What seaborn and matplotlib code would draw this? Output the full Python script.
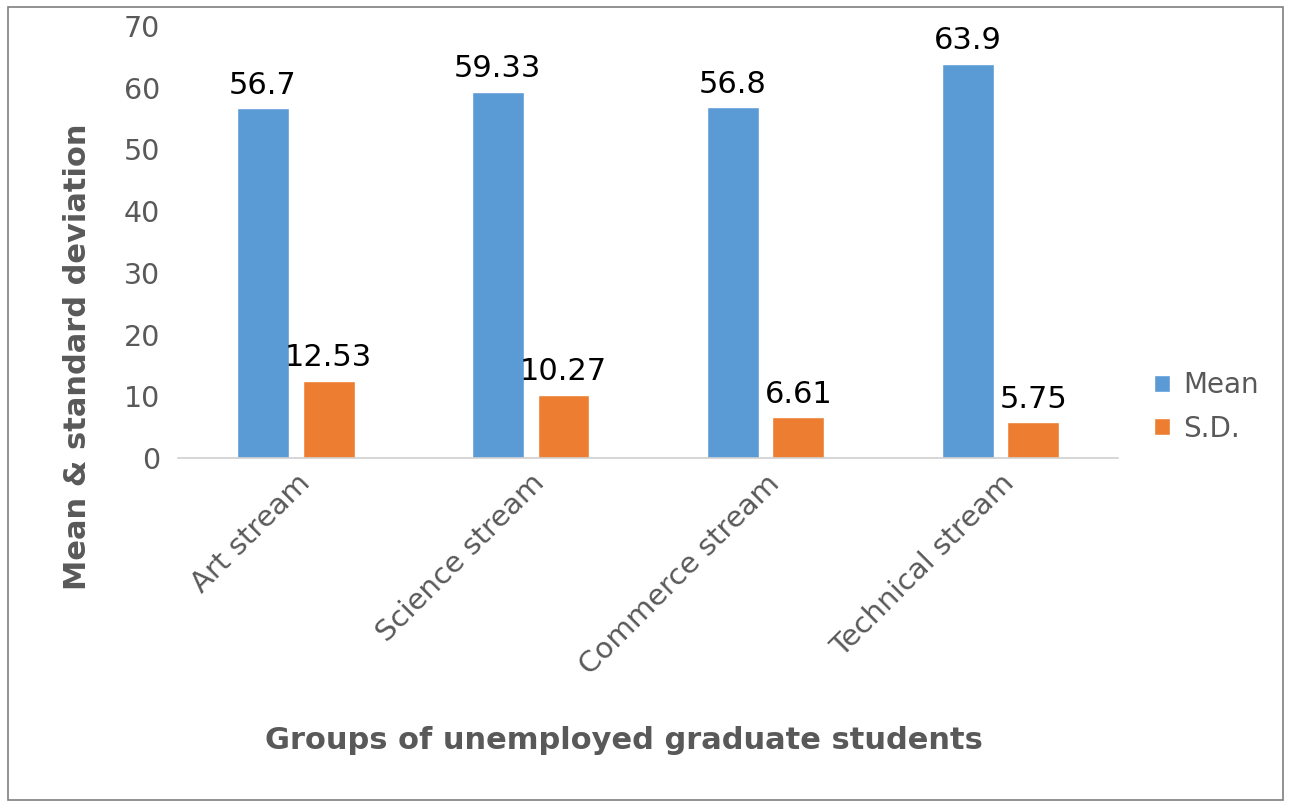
import pandas as pd
import matplotlib
matplotlib.use("Agg")
import matplotlib.pyplot as plt
import seaborn as sns
from matplotlib.patches import Rectangle

# data
groups = ["Art stream", "Science stream", "Commerce stream", "Technical stream"]
mean_vals = [56.7, 59.33, 56.8, 63.9]
sd_vals = [12.53, 10.27, 6.61, 5.75]
mean_labels = ["56.7", "59.33", "56.8", "63.9"]
sd_labels = ["12.53", "10.27", "6.61", "5.75"]

df = pd.DataFrame({
    "group": groups * 2,
    "stat": ["Mean"] * len(groups) + ["S.D."] * len(groups),
    "value": mean_vals + sd_vals,
})

sns.set_theme(style="white")
plt.rcParams["font.family"] = ["DejaVu Sans"]

grey = "#595959"
fig = plt.figure(figsize=(12.91, 8.07), dpi=100)
ax = fig.add_axes([0.138, 0.4325, 0.728, 0.5353])

sns.barplot(data=df, x="group", y="value", hue="stat",
            palette={"Mean": "#5B9BD5", "S.D.": "#ED7D31"}, saturation=1,
            width=0.56, gap=0.21, ax=ax, legend=True)

for cont, labs in zip(ax.containers, [mean_labels, sd_labels]):
    ax.bar_label(cont, labels=labs, padding=6, fontsize=22, color="black")

ax.set_ylim(0, 70)
ax.set_yticks(range(0, 71, 10))
ax.set_xlim(-0.5, len(groups) - 0.5)
ax.tick_params(axis="y", labelsize=20.5, labelcolor=grey, length=0, pad=13)
ax.tick_params(axis="x", labelsize=21, labelcolor=grey, length=0, pad=8)
plt.setp(ax.get_xticklabels(), rotation=45, ha="right", rotation_mode="anchor")

for s in ["top", "right", "left"]:
    ax.spines[s].set_visible(False)
ax.spines["bottom"].set_color("#d0d0d0")
ax.spines["bottom"].set_linewidth(1.2)

ax.set_ylabel("")
ax.set_xlabel("")
fig.text(0.06, 0.558, "Mean & standard deviation", rotation=90, ha="center",
         va="center", fontsize=22, fontweight="bold", color=grey)
fig.text(0.483, 0.083, "Groups of unemployed graduate students", ha="center",
         va="center", fontsize=22, fontweight="bold", color=grey)

leg = ax.legend(loc="center left", bbox_to_anchor=(1.012, 0.118), frameon=False,
                fontsize=20, handlelength=0.58, handleheight=0.58,
                handletextpad=0.47, labelspacing=0.55)
for t in leg.get_texts():
    t.set_color(grey)

fig.patches.append(Rectangle((0.006, 0.009), 0.988, 0.982, transform=fig.transFigure,
                             fill=False, edgecolor="#7f7f7f", linewidth=1.2))

fig.savefig("out.png", dpi=100)
